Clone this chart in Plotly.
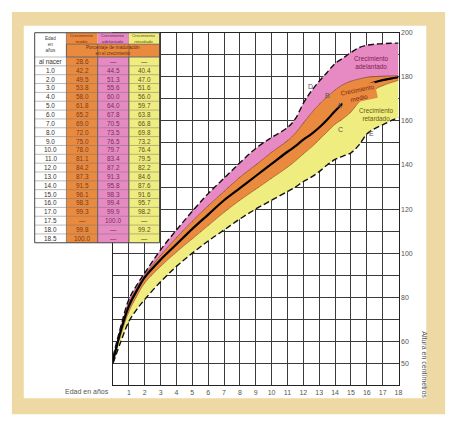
import plotly.graph_objects as go

W, H = 461, 428

# ---------------- data ----------------
ages = [0, 0.5, 1, 1.5, 2, 3, 4, 5, 6, 7, 8, 9, 10, 11, 11.5, 12, 12.5, 13, 13.5,
        14, 14.5, 15, 15.5, 16, 16.5, 17, 17.5, 18]
curve_D = [53, 67, 79, 85.5, 91, 101.5, 110.5, 119, 127, 134, 141, 147.5, 152.5, 157, 161,
           168, 173.5, 178, 182, 186, 188.5, 191, 193.2, 194.3, 194.8, 195, 195.2, 195.3]
curve_B = [52, 66, 77.5, 84.2, 90, 99, 107, 114.5, 121.5, 128, 134.5, 140, 145.8, 151, 154.5,
           159, 163.5, 167.5, 171, 174, 176.5, 178, 179, 179.8, 180.1, 180.3, 180.4, 180.5]
curve_A = [51, 65, 76, 83, 89, 97, 104, 111, 117.5, 124, 129.5, 135, 140.5, 146, 148.5,
           151.5, 154, 157, 160.5, 164.5, 168, 171.5, 174, 176, 177.5, 178.5, 179.2, 179.8]
curve_C = [50.5, 63, 73.5, 80.5, 86.5, 94, 100.5, 106.5, 112.5, 118.5, 124, 129, 134, 139, 141.8,
           145, 148, 151.5, 155, 158.5, 161, 164, 168.5, 171.5, 174.3, 176, 177.3, 178.4]
curve_E = [50, 60, 69, 74.5, 79, 87, 94, 100, 105.5, 110.5, 115.5, 120, 124, 128, 130,
           132.5, 134.5, 137, 140, 142.5, 144, 145.5, 149, 154, 156.5, 158.2, 160, 161.5]

x_ticks = list(range(0, 19))
x_ticklabels = [""] + [str(i) for i in range(1, 19)]
y_ticks = list(range(40, 201, 10))
y_labeled = [50, 60, 80, 100, 120, 140, 160, 180, 200]

table_ages = ["al nacer", "1.0", "2.0", "3.0", "4.0", "5.0", "6.0", "7.0", "8.0", "9.0",
              "10.0", "11.0", "12.0", "13.0", "14.0", "15.0", "16.0", "17.0", "17.5",
              "18.0", "18.5"]
pct_medio = ["28.6", "42.2", "49.5", "53.8", "58.0", "61.8", "65.2", "69.0", "72.0", "75.0",
             "78.0", "81.1", "84.2", "87.3", "91.5", "96.1", "98.3", "99.3", "—", "99.8", "100.0"]
pct_adelantado = ["—", "44.5", "51.3", "55.6", "60.0", "64.0", "67.8", "70.5", "73.5", "76.5",
                  "79.7", "83.4", "87.2", "91.3", "95.8", "98.3", "99.4", "99.9", "100.0", "—", "—"]
pct_retardado = ["—", "40.4", "47.0", "51.6", "56.0", "59.7", "63.8", "66.8", "69.8", "73.2",
                 "76.4", "79.5", "82.2", "84.6", "87.6", "91.6", "95.7", "98.2", "—", "99.2", "—"]

PINK = "#e78ac3"
ORANGE = "#ea8a3f"
YELLOW = "#efed80"
FONT = "Liberation Sans"

def px(x):
    return x / W

def py(y):
    return 1 - y / H

fig = go.Figure()

# bands
fig.add_trace(go.Scatter(x=ages, y=curve_E, mode="lines", line=dict(color="black", width=0, shape="spline"),
                         hoverinfo="skip", showlegend=False))
fig.add_trace(go.Scatter(x=ages, y=curve_C, mode="lines", fill="tonexty", fillcolor=YELLOW,
                         line=dict(color="#9a5a20", width=0.7, shape="spline"), showlegend=False))
fig.add_trace(go.Scatter(x=ages, y=curve_B, mode="lines", fill="tonexty", fillcolor=ORANGE,
                         line=dict(color="#8a3a30", width=0.7, shape="spline"), showlegend=False))
fig.add_trace(go.Scatter(x=ages, y=curve_D, mode="lines", fill="tonexty", fillcolor=PINK,
                         line=dict(color="black", width=0, shape="spline"), showlegend=False))
# lines on top
fig.add_trace(go.Scatter(x=ages, y=curve_A, mode="lines",
                         line=dict(color="black", width=2.2, shape="spline"), showlegend=False))
for cv in (curve_D, curve_E):
    fig.add_trace(go.Scatter(x=ages, y=cv, mode="lines",
                             line=dict(color="#111", width=1.4, shape="spline", dash="6px,3px"),
                             showlegend=False))

shapes = []
# background frame
shapes.append(dict(type="rect", xref="paper", yref="paper", x0=px(12), x1=px(449), y0=py(414), y1=py(8),
                   fillcolor="#eed9a4", line=dict(width=0), layer="below"))
shapes.append(dict(type="rect", xref="paper", yref="paper", x0=px(24), x1=px(430), y0=py(398), y1=py(22),
                   fillcolor="white", line=dict(width=0), layer="below"))

# table
col_edges = [35, 67, 98.5, 130, 161]
hdr_top, hdr_mid, hdr_bot = 29, 40.5, 53.5
row_h = 8.93
n_rows = len(table_ages)
tbl_bot = hdr_bot + n_rows * row_h
col_colors = ["white", ORANGE, PINK, YELLOW]
for i, c in enumerate(col_colors):
    shapes.append(dict(type="rect", xref="paper", yref="paper", x0=px(col_edges[i]), x1=px(col_edges[i + 1]),
                       y0=py(tbl_bot), y1=py(hdr_top), fillcolor=c, line=dict(width=0)))
shapes.append(dict(type="rect", xref="paper", yref="paper", x0=px(col_edges[1]), x1=px(col_edges[4]),
                   y0=py(hdr_bot), y1=py(hdr_mid), fillcolor=ORANGE, line=dict(color="#555", width=0.6)))
for i in range(1, 4):
    shapes.append(dict(type="line", xref="paper", yref="paper", x0=px(col_edges[i]), x1=px(col_edges[i]),
                       y0=py(tbl_bot), y1=py(hdr_top) if i == 1 else py(hdr_mid),
                       line=dict(color="#555", width=0.6)))
    if i > 1:
        shapes.append(dict(type="line", xref="paper", yref="paper", x0=px(col_edges[i]), x1=px(col_edges[i]),
                           y0=py(tbl_bot), y1=py(hdr_bot), line=dict(color="#555", width=0.6)))
for r in range(n_rows):
    yy = hdr_bot + r * row_h
    shapes.append(dict(type="line", xref="paper", yref="paper", x0=px(col_edges[0]), x1=px(col_edges[4]),
                       y0=py(yy), y1=py(yy), line=dict(color="#777", width=0.5)))
shapes.append(dict(type="rect", xref="paper", yref="paper", x0=px(col_edges[0]), x1=px(col_edges[4]),
                   y0=py(tbl_bot), y1=py(hdr_top), line=dict(color="#444", width=1)))

ann = []
def add_text(x, y, t, size=7, color="#333", angle=0, xref="paper", yref="paper", **kw):
    d = dict(x=x, y=y, xref=xref, yref=yref, text=t, showarrow=False, textangle=angle,
             xanchor="center", yanchor="middle", borderpad=0,
             font=dict(family=FONT, size=size, color=color))
    d.update(kw)
    ann.append(d)

add_text(px((col_edges[0] + col_edges[1]) / 2), py((hdr_top + hdr_bot) / 2), "Edad<br>en<br>años",
         size=4.6, color="#444")
hdr_names = ["Crecimiento<br>medio", "Crecimiento<br>adelantado", "Crecimiento<br>retardado"]
hdr_cols = ["#7a3010", "#6a1f55", "#5a5010"]
for i, t in enumerate(hdr_names):
    add_text(px((col_edges[i + 1] + col_edges[i + 2]) / 2), py((hdr_top + hdr_mid) / 2), t,
             size=4.3, color=hdr_cols[i])
add_text(px((col_edges[1] + col_edges[4]) / 2), py((hdr_mid + hdr_bot) / 2),
         "Porcentaje de maduración<br>en el crecimiento", size=4.6, color="#6a2a10")

txt_cols = ["#333", "#7a3a18", "#7a2a60", "#5a5214"]
for r in range(n_rows):
    yc = py(hdr_bot + (r + 0.5) * row_h)
    vals = [table_ages[r], pct_medio[r], pct_adelantado[r], pct_retardado[r]]
    for i, v in enumerate(vals):
        add_text(px((col_edges[i] + col_edges[i + 1]) / 2), yc, v, size=6.4, color=txt_cols[i])

# axis-related texts
add_text(px(88), py(391), "Edad en años", size=7, color="#555")
add_text(px(428), py(364), "Altura en centímetros", size=7, color="#555", angle=90)

# curve labels
add_text(16.3, 186.5, "Crecimiento<br>adelantado", size=6.4, color="#7a1f55", xref="x", yref="y")
add_text(15.5, 172.6, "Crecimiento<br>medio", size=6.4, color="#7a2a10", xref="x", yref="y",
         angle=-12, bgcolor=ORANGE)
add_text(16.6, 163, "Crecimiento<br>retardado", size=6.4, color="#6a5a10", xref="x", yref="y")
for lab, ax_, ay_ in [("D", 12.45, 175.7), ("B", 13.5, 171.7), ("A", 14.25, 167.2),
                      ("C", 14.35, 156.3), ("E", 16.3, 154.4)]:
    add_text(ax_, ay_, lab, size=7, color="#555", xref="x", yref="y")

fig.update_layout(
    width=W, height=H, margin=dict(l=0, r=0, t=0, b=0),
    paper_bgcolor="white", plot_bgcolor="rgba(0,0,0,0)",
    shapes=shapes, annotations=ann, showlegend=False,
    xaxis=dict(domain=[px(114), px(402)], range=[0, 18], tickvals=x_ticks, ticktext=x_ticklabels,
               showgrid=True, gridcolor="#3a3a3a", gridwidth=0.8, zeroline=False,
               showline=True, linecolor="#222", linewidth=1.2, mirror=True, ticks="",
               tickfont=dict(family=FONT, size=7, color="#555")),
    yaxis=dict(domain=[py(385), py(29)], range=[40, 200], side="right", tickvals=y_ticks,
               ticktext=[str(v) if v in y_labeled else "" for v in y_ticks],
               showgrid=True, gridcolor="#3a3a3a", gridwidth=0.8, zeroline=False,
               showline=True, linecolor="#222", linewidth=1.2, mirror=True, ticks="",
               tickfont=dict(family=FONT, size=7, color="#555")),
)

fig.write_html("out.html", config={"displayModeBar": False},
               post_script="document.body.style.margin='0px';document.body.style.overflow='hidden';")
